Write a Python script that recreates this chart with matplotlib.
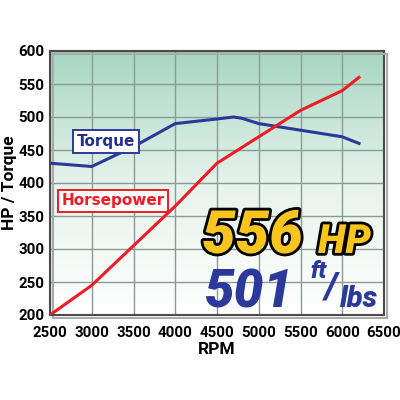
import numpy as np
import matplotlib
matplotlib.use("Agg")
import matplotlib.pyplot as plt
import matplotlib.patheffects as pe
from matplotlib.colors import LinearSegmentedColormap

# dyno data
hp_rpm = [2500, 3000, 3500, 4000, 4500, 5000, 5500, 6000, 6200]
hp_val = [200, 245, 305, 365, 430, 470, 510, 540, 560]
tq_rpm = [2500, 3000, 3500, 4000, 4500, 4700, 4800, 5000, 5500, 6000, 6200]
tq_val = [430, 425, 455, 490, 497, 500, 498, 490, 480, 470, 460]

x_ticks = [2500, 3000, 3500, 4000, 4500, 5000, 5500, 6000, 6500]
y_ticks = [200, 250, 300, 350, 400, 450, 500, 550, 600]

FONT = "Roboto"
tick_font = dict(family=FONT, weight="bold", size=10.8)

fig = plt.figure(figsize=(4, 4), dpi=100)
ax = fig.add_axes([0.125, 0.2125, 0.835, 0.66])
ax.set_xlim(2500, 6500)
ax.set_ylim(200, 600)

# green-to-white gradient background
cmap = LinearSegmentedColormap.from_list("bg", ["#ffffff", "#e6f3ec", "#a6d6c2"])
grad = np.linspace(0, 1, 256).reshape(-1, 1)
ax.imshow(grad, cmap=cmap, aspect="auto", origin="lower",
          extent=[2500, 6500, 200, 600], zorder=0)

for x in x_ticks:
    ax.axvline(x, color="#8a9a94", lw=1.0, zorder=1)
for y in y_ticks:
    ax.axhline(y, color="#8a9a94", lw=1.0, zorder=1)

ax.plot(tq_rpm, tq_val, color="#2b3a9a", lw=2.2, zorder=3)
ax.plot(hp_rpm, hp_val, color="#ee1c24", lw=2.2, zorder=3)

for s in ax.spines.values():
    s.set_color("#4a4a4a")
    s.set_linewidth(1.5)
    s.set_path_effects([pe.SimpleLineShadow(offset=(2.5, -2.5), shadow_color="#aaaaaa", alpha=1.0),
                        pe.Normal()])

ax.set_xticks(x_ticks)
ax.set_yticks(y_ticks)
ax.set_xticklabels([str(v) for v in x_ticks], fontdict=tick_font)
ax.set_yticklabels([str(v) for v in y_ticks], fontdict=tick_font)
ax.tick_params(axis="x", length=0, pad=8)
ax.tick_params(axis="y", length=0, pad=4)
ax.set_xlabel("RPM", fontdict=dict(family=FONT, weight="bold", size=12.5), labelpad=1)
ax.set_ylabel("HP / Torque", fontdict=dict(family=FONT, weight="bold", size=12.5), labelpad=1)

ax.text(3166, 463, "Torque", color="#232f8a", fontsize=11, fontweight="bold",
        family="DejaVu Sans", ha="center", va="center", zorder=5,
        bbox=dict(boxstyle="square,pad=0.25", fc="white", ec="#2b3a9a", lw=1.4))
ax.text(3254, 373, "Horsepower", color="#ee1c24", fontsize=11, fontweight="bold",
        family="DejaVu Sans", ha="center", va="center", zorder=5,
        bbox=dict(boxstyle="square,pad=0.25", fc="white", ec="#ee1c24", lw=1.4))

outline = [pe.withStroke(linewidth=4, foreground="black")]
big = dict(family=FONT, fontweight="black", style="italic", zorder=6)
ax.text(5530, 294, "556", color="#f7c51e", fontsize=43, ha="right", va="baseline",
        path_effects=outline, **big)
ax.text(5710, 294, "HP", color="#f7c51e", fontsize=29, ha="left", va="baseline",
        path_effects=outline, **big)
ax.text(5420, 212, "501", color="#2b3a9a", fontsize=38, ha="right", va="baseline", **big)
ax.text(5614, 256, "ft", color="#2b3a9a", fontsize=17, ha="left", va="baseline", **big)
ax.text(5794, 226, "/", color="#2b3a9a", fontsize=26, ha="left", va="baseline", **big)
ax.text(5974, 212, "lbs", color="#2b3a9a", fontsize=21, ha="left", va="baseline", **big)

fig.savefig("out.png", dpi=100, facecolor="white")
